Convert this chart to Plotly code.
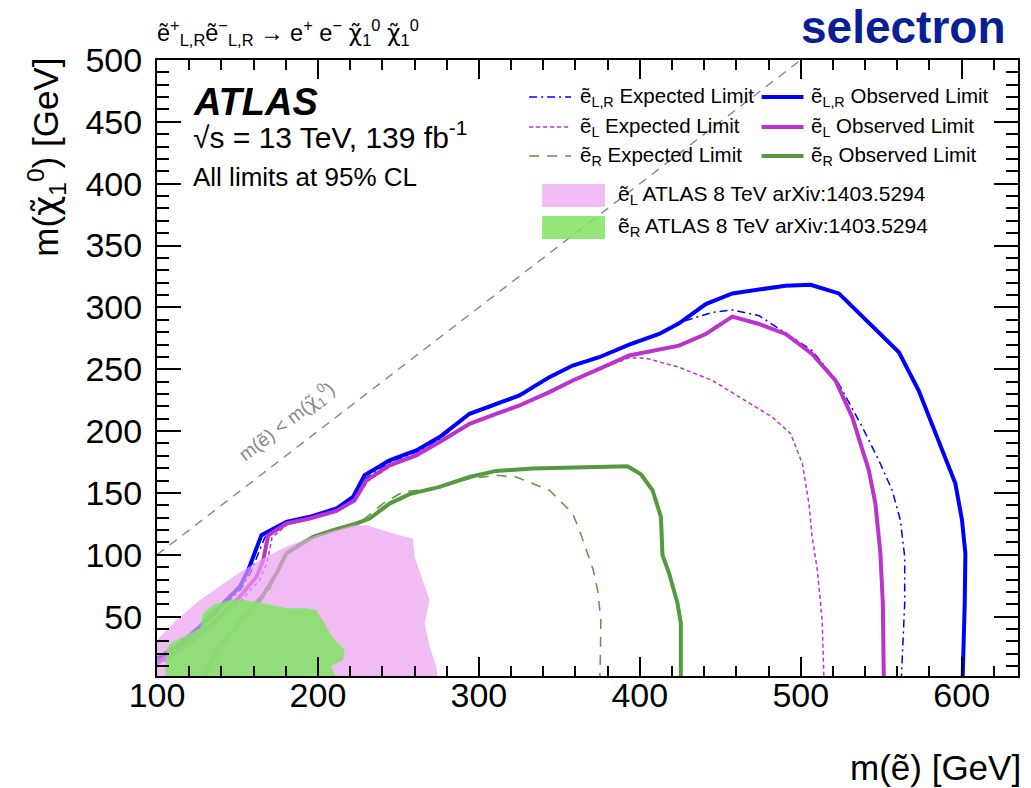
import plotly.graph_objects as go

# ---------------- data ----------------
x_range = [100, 635]
y_range = [2, 500]

diag_x = [100, 500]
diag_y = [100, 500]

eLR_obs_x = [100, 112.2, 126.7, 143.2, 151.5, 156.7, 164.9, 180.4, 194.9, 211.5, 221.8, 229.0, 244.5,
             261.1, 275.6, 294.2, 310.7, 325.2, 343.8, 358.3, 374.8, 393.4, 412.0, 424.4, 441.0, 457.5,
             490.6, 506.1, 523.7, 548.5, 561.0, 573.3, 585.7, 596.1, 600.2, 602.3, 601.9, 600.6]
eLR_obs_y = [16, 25.8, 41.9, 63.4, 74.2, 87.7, 115.9, 126.6, 130.7, 137.4, 146.8, 164.3, 176.4,
             184.4, 195.2, 214.0, 222.1, 228.8, 243.6, 253.0, 259.7, 269.9, 278.5, 287.1, 302.7, 311.3,
             317.5, 318.3, 311.3, 279.9, 263.7, 232.8, 192.5, 157.6, 128.0, 101.1, 60.8, 0]

eL_obs_x = [100, 116.3, 134.9, 151.5, 161.8, 166.0, 169.1, 180.4, 194.9, 211.5, 222.8, 230.1, 244.5,
            261.1, 275.6, 294.2, 310.7, 325.2, 343.8, 358.3, 374.8, 393.4, 424.4, 441.0, 457.5, 474.1,
            490.6, 507.1, 521.6, 532.0, 542.3, 546.4, 549.5, 551.0, 551.6]
eL_obs_y = [12.4, 25.8, 44.6, 66.1, 82.2, 95.7, 115.8, 125.3, 129.3, 135.5, 144.1, 160.2, 172.3,
            180.4, 191.2, 205.9, 214.0, 220.7, 231.5, 240.9, 250.3, 261.1, 269.1, 278.5, 292.5, 286.6,
            278.5, 262.4, 240.9, 211.3, 168.3, 141.4, 101.1, 60.8, 0]

eR_obs_x = [128.7, 137.0, 147.4, 155.6, 166.0, 174.2, 180.4, 197.0, 209.4, 223.9, 232.1, 244.5, 256.9,
            275.6, 294.2, 310.7, 333.5, 374.8, 392.4, 400.7, 407.9, 413.1, 414.1, 418.2, 423.4, 425.5, 425.5]
eR_obs_y = [0, 23.1, 39.2, 52.7, 67.5, 84.9, 101.1, 114.5, 119.9, 125.3, 129.3, 141.4, 149.0,
            154.9, 162.9, 167.8, 169.7, 171.0, 171.5, 165.1, 152.2, 130.7, 99.8, 85.0, 60.8, 44.7, 0]

eLR_exp_x = [100, 112, 127, 143, 152, 158, 167, 181, 195, 212, 222, 230, 245, 261, 276, 294, 311, 325,
             344, 358, 375, 393, 412, 428.6, 445.1, 457.5, 474.1, 488.5, 507.1, 523.7, 538.2, 548.5,
             556.8, 561.9, 564.6, 564.6, 563.0, 562.5]
eLR_exp_y = [14, 24, 40, 61, 72, 85, 114, 125, 129.5, 136, 145, 162, 175, 183, 194, 213, 221, 228,
             243, 253, 260, 270, 279, 289.3, 296.0, 297.9, 293.3, 281.2, 265.1, 238.2, 203.3, 176.4,
             152.2, 128.0, 98.4, 60.8, 12.4, 0]

eL_exp_x = [100, 118, 137, 153, 164, 168.5, 171.5, 181, 195, 212, 223, 231, 245, 261, 276, 294, 311,
            325, 344, 358, 375, 393.4, 403.8, 424.4, 445.1, 465.8, 482.3, 493.7, 501.0, 505.1, 507.1,
            510.3, 513.3, 514.4]
eL_exp_y = [11, 24, 43, 64, 80, 94, 114, 124.5, 128.8, 135, 143.5, 159.5, 171.5, 180, 190.5, 205, 213.5,
            220, 231, 240.5, 250, 259.2, 258.9, 251.6, 240.9, 224.8, 211.3, 197.9, 173.7, 141.4, 114.5,
            87.7, 47.3, 0]

eR_exp_x = [132, 140, 150, 160, 170, 176, 181, 192, 206, 221, 228.0, 240.4, 252.8, 271.4, 294.2, 310.7,
            323.1, 343.8, 358.3, 363, 367, 371, 373.8, 375.8, 375.5, 375.2]
eR_exp_y = [0, 25, 40, 55, 72, 90, 103, 112, 118, 124, 128.0, 141.4, 150.8, 153.5, 161.6, 164.3,
            162.9, 152.2, 133.4, 118, 103, 88, 71.5, 47.3, 20, 0]

eL8_x = [100, 100, 112.2, 126.7, 147.4, 163.9, 180.4, 199.1, 221.8, 230.1, 250.7, 259.0, 260.0, 265.2,
         269.4, 266.3, 269.4, 273.5, 274.5, 100]
eL8_y = [0, 31.2, 47.3, 63.4, 82.2, 95.7, 106.4, 115.8, 123.9, 123.9, 115.8, 113.2, 98.4, 79.6,
         63.4, 44.6, 25.8, 9.7, 0, 0]

eR8_x = [105.0, 106.0, 108.1, 116.3, 126.7, 128.7, 135.0, 147.4, 157.7, 168.0, 180.4, 192.8, 199.0,
         203.0, 209.4, 216.6, 215.6, 208.0, 211.5, 105.0]
eR8_y = [0, 23.0, 28.5, 33.8, 40.6, 52.7, 59.4, 64.0, 62.9, 60.2, 56.7, 56.7, 55.4,
         47.0, 32.5, 23.0, 15.0, 10.0, 0, 0]

x_ticks = [100, 200, 300, 400, 500, 600]
y_ticks = [50, 100, 150, 200, 250, 300, 350, 400, 450, 500]

# ---------------- styles ----------------
FONT = "Liberation Sans, Arial, Helvetica, sans-serif"
CHI = '<span style="font-family:DejaVu Sans">χ̃</span>'
BLUE = "#0000ff"
MAG = "#bb33cc"
GREEN = "#57993f"
PINK_FILL = "rgba(235,160,240,0.7)"
GREEN_FILL = "rgba(128,227,100,0.85)"

W, H = 1031, 788
L, R, T, B = 157, 11, 60, 112
PW, PH = W - L - R, H - T - B


def px(xp):
    return (xp - L) / PW


def py(yp):
    return (H - B - yp) / PH


fig = go.Figure()

fig.add_trace(go.Scatter(x=diag_x, y=diag_y, mode="lines",
                         line=dict(color="#8a8a8a", width=1.5, dash="9px,7px"),
                         hoverinfo="skip", showlegend=False))

series = [
    ("ẽ<sub>L,R</sub> Expected Limit", eLR_exp_x, eLR_exp_y, BLUE, 1.5, "8px,4px,2px,4px"),
    ("ẽ<sub>L</sub> Expected Limit", eL_exp_x, eL_exp_y, MAG, 1.5, "4px,3px"),
    ("ẽ<sub>R</sub> Expected Limit", eR_exp_x, eR_exp_y, GREEN, 1.5, "10px,8px"),
    ("ẽ<sub>L,R</sub> Observed Limit", eLR_obs_x, eLR_obs_y, BLUE, 4, "solid"),
    ("ẽ<sub>L</sub> Observed Limit", eL_obs_x, eL_obs_y, MAG, 4, "solid"),
    ("ẽ<sub>R</sub> Observed Limit", eR_obs_x, eR_obs_y, GREEN, 4, "solid"),
]
for name, xs, ys, col, w, dash in series:
    fig.add_trace(go.Scatter(x=xs, y=ys, mode="lines", name=name,
                             line=dict(color=col, width=w, dash=dash),
                             showlegend=False))

fills = [
    ("ẽ<sub>L</sub> ATLAS 8 TeV arXiv:1403.5294", eL8_x, eL8_y, PINK_FILL),
    ("ẽ<sub>R</sub> ATLAS 8 TeV arXiv:1403.5294", eR8_x, eR8_y, GREEN_FILL),
]
for name, xs, ys, col in fills:
    fig.add_trace(go.Scatter(x=xs, y=ys, mode="lines", fill="toself", fillcolor=col,
                             line=dict(color="rgba(0,0,0,0)", width=0), name=name,
                             showlegend=False))

# ---------------- manual legend ----------------
shapes = []
annos = []
row_y = [97, 127, 156]
col_line = [(530, 572, 579), (763, 805, 811)]
for i, (name, xs, ys, col, w, dash) in enumerate(series):
    c, r = divmod(i, 3)
    x0, x1, xt = col_line[c]
    shapes.append(dict(type="line", xref="paper", yref="paper", x0=px(x0), x1=px(x1),
                       y0=py(row_y[r]), y1=py(row_y[r]),
                       line=dict(color=col, width=w, dash=dash)))
    annos.append(dict(text=name, xref="paper", yref="paper", x=px(xt), y=py(row_y[r]),
                      xanchor="left", yanchor="middle", showarrow=False,
                      font=dict(family=FONT, size=20.5, color="black")))

box_y = [(184, 207), (216, 239)]
for i, (name, xs, ys, col) in enumerate(fills):
    y0, y1 = box_y[i]
    shapes.append(dict(type="rect", xref="paper", yref="paper", x0=px(543), x1=px(606),
                       y0=py(y1), y1=py(y0), fillcolor=col, line=dict(width=0)))
    annos.append(dict(text=name, xref="paper", yref="paper", x=px(617), y=py((y0 + y1) / 2),
                      xanchor="left", yanchor="middle", showarrow=False,
                      font=dict(family=FONT, size=21, color="black")))

# ---------------- other texts ----------------
annos += [
    dict(text="<b><i>ATLAS</i></b>", x=px(191), y=py(102), xanchor="left", yanchor="middle",
         font=dict(family=FONT, size=38, color="black")),
    dict(text="√s = 13 TeV, 139 fb<sup>-1</sup>", x=px(191), y=py(135), xanchor="left",
         yanchor="middle", font=dict(family=FONT, size=30, color="black")),
    dict(text="All limits at 95% CL", x=px(191), y=py(177), xanchor="left", yanchor="middle",
         font=dict(family=FONT, size=26, color="black")),
    dict(text="m(ẽ) < m(" + CHI + "<sub>1</sub><sup>0</sup>)", x=px(287), y=py(421),
         xanchor="center", yanchor="middle", textangle=-37.6,
         font=dict(family=FONT, size=19, color="#8a8a8a")),
    dict(text="ẽ<sup>+</sup><sub>L,R</sub>ẽ<sup>−</sup><sub>L,R</sub> → e<sup>+</sup> e<sup>−</sup> "
              + CHI + "<sub>1</sub><sup>0</sup> " + CHI + "<sub>1</sub><sup>0</sup>",
         x=px(155), y=py(32), xanchor="left", yanchor="middle",
         font=dict(family=FONT, size=23.5, color="black")),
    dict(text="<b>selectron</b>", x=px(1010), y=py(27), xanchor="right", yanchor="middle",
         font=dict(family=FONT, size=46, color="#0a1e96")),
    dict(text="m(ẽ) [GeV]", x=px(1025), y=py(767), xanchor="right", yanchor="middle",
         font=dict(family=FONT, size=35, color="black")),
    dict(text="m(" + CHI + "<sub>1</sub><sup>0</sup>) [GeV]", x=px(46), y=py(56), xanchor="center",
         yanchor="top", textangle=-90, font=dict(family=FONT, size=35, color="black")),
]
for a in annos:
    a.setdefault("xref", "paper")
    a.setdefault("yref", "paper")
    a.setdefault("showarrow", False)

axis_common = dict(showline=True, linecolor="black", linewidth=2, mirror="ticks",
                   ticks="inside", tickcolor="black", tickwidth=1.5, showgrid=False,
                   zeroline=False, tickfont=dict(family=FONT, size=34, color="black"))

fig.update_layout(
    width=W, height=H, margin=dict(l=L, r=R, t=T, b=B),
    paper_bgcolor="white", plot_bgcolor="white", showlegend=False,
    shapes=shapes, annotations=annos,
    xaxis=dict(range=x_range, tickvals=x_ticks, ticklen=19, ticklabelstandoff=-12,
               minor=dict(ticks="inside", dtick=20, tick0=100, ticklen=10, tickwidth=1.5,
                          tickcolor="black", showgrid=False),
               **axis_common),
    yaxis=dict(range=y_range, tickvals=y_ticks, ticklen=24, ticklabelstandoff=6,
               minor=dict(ticks="inside", dtick=10, tick0=0, ticklen=12, tickwidth=1.5,
                          tickcolor="black", showgrid=False),
               **axis_common),
)

fig.write_html("out.html")
